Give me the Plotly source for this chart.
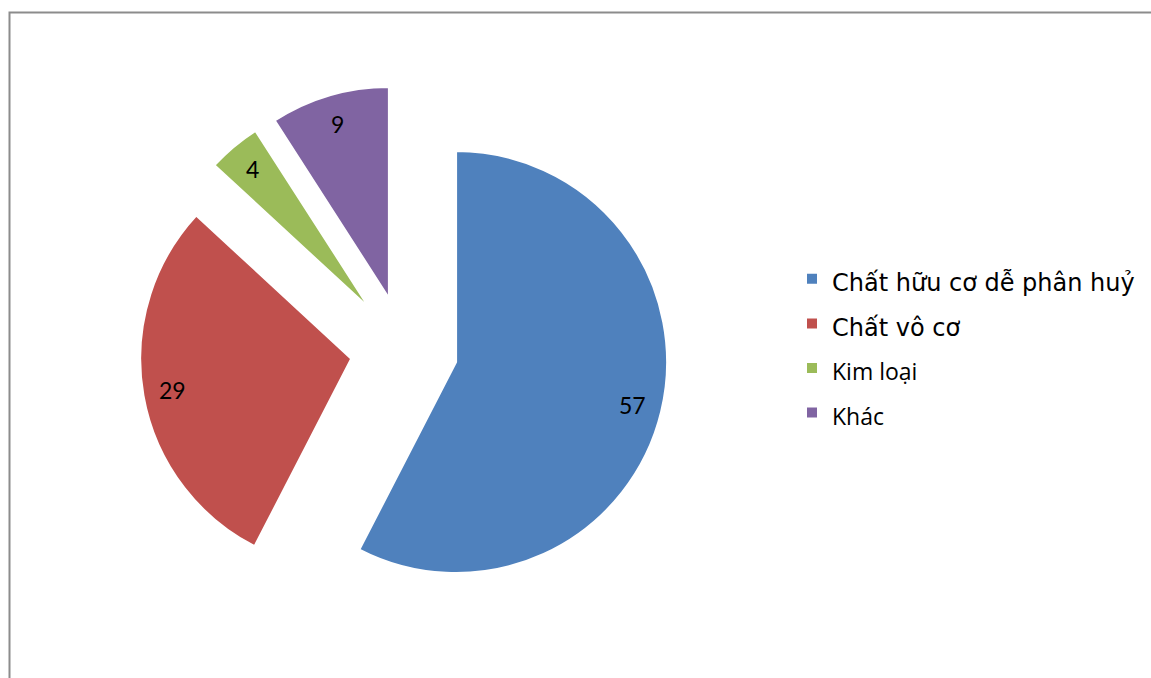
import math
import plotly.graph_objects as go

W, H = 1151, 678

categories = ["Chất hữu cơ dễ phân huỷ", "Chất vô cơ", "Kim loại", "Khác"]
values = [57, 29, 4, 9]
colors = ["#4F81BD", "#C0504D", "#9BBB59", "#8064A2"]
legend_fonts = ["DejaVu Sans", "DejaVu Sans", "Open Sans", "Open Sans"]
legend_sizes = [24, 24, 23, 23]

PULL = 0.254
dom_x = [139.4 / W, 668.6 / W]
dom_y = [64.0 / H, 593.2 / H]

names = [
    f'<span style="font-family:{f};font-size:{s}px">{c}</span>'
    for c, f, s in zip(categories, legend_fonts, legend_sizes)
]

fig = go.Figure(
    go.Pie(
        labels=names,
        values=values,
        sort=False,
        direction="clockwise",
        rotation=0,
        pull=[PULL] * len(values),
        marker=dict(colors=colors, line=dict(color="white", width=2)),
        textinfo="none",
        hoverinfo="label+value",
        domain=dict(x=dom_x, y=dom_y),
    )
)

# value labels placed along each slice bisector (Excel "best fit" style)
box_w = (dom_x[1] - dom_x[0]) * W
box_h = (dom_y[1] - dom_y[0]) * H
r = min(box_w, box_h) / (2 + 2 * PULL)
cx = (dom_x[0] + dom_x[1]) / 2 * W
cy = (1 - (dom_y[0] + dom_y[1]) / 2) * H
total = sum(values)
cum = 0
for v in values:
    mid = (cum + v / 2) / total * 2 * math.pi
    cum += v
    dist = PULL * r + 0.86 * r
    px = cx + dist * math.sin(mid)
    py = cy - dist * math.cos(mid)
    fig.add_annotation(
        x=px / W, y=1 - py / H, xref="paper", yref="paper",
        text=str(v), showarrow=False,
        font=dict(family="Lato", size=23, color="black"),
        xanchor="center", yanchor="middle",
    )

# chart frame (top and left edges visible)
fig.add_shape(
    type="rect", xref="paper", yref="paper",
    x0=9.5 / W, x1=1.05, y0=-0.05, y1=1 - 12.5 / H,
    line=dict(color="#8C8C8C", width=2), fillcolor="rgba(0,0,0,0)",
)

fig.update_layout(
    width=W, height=H, autosize=False,
    margin=dict(l=0, r=0, t=0, b=0),
    paper_bgcolor="white", plot_bgcolor="white",
    showlegend=True,
    legend=dict(
        x=792 / W, y=1 - 346 / H, xanchor="left", yanchor="middle",
        font=dict(family="DejaVu Sans", size=32, color="black"),
        bgcolor="rgba(0,0,0,0)",
    ),
)

fig.write_html("out.html")
